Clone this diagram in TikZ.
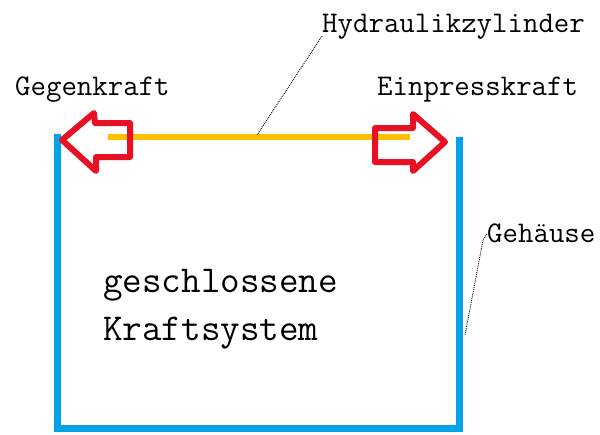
\documentclass[tikz,border=0pt]{standalone}
\usepackage{fontspec}
\definecolor{boxblue}{RGB}{0,162,232}
\definecolor{cylyellow}{RGB}{255,192,0}
\definecolor{arrred}{RGB}{232,17,35}
\tikzset{
  housing/.style={draw=boxblue, line width=7pt, line join=miter},
  cylinder line/.style={draw=cylyellow, line width=6pt},
  forcearrow/.style={draw=arrred, line width=6pt, line join=round},
  lbl/.style={inner sep=0pt, font=\ttfamily\fontsize{30}{30}\selectfont},
  biglbl/.style={inner sep=0pt, font=\ttfamily\fontsize{38}{38}\selectfont},
  leader/.style={draw=black, line width=0.9pt, densely dotted}
}
\begin{document}
\begin{tikzpicture}[x=1pt, y=-1pt]
\useasboundingbox (0,0) rectangle (600,434);
% housing
\draw[housing] (57,134) -- (57,428) -- (459,428) -- (459,137);
% hydraulic cylinder
\draw[cylinder line] (108,137) -- (410,137);
% counter force arrow (left)
\draw[forcearrow] (62,140) -- (94,113) -- (95,123) -- (130,123) -- (130,157) -- (96,157) -- (96,171) -- cycle;
% press-in force arrow (right)
\draw[forcearrow] (445,142) -- (413,114) -- (413,128) -- (375,128) -- (375,162) -- (413,162) -- (413,171) -- cycle;
% labels
\node[lbl, anchor=base west] (hyd) at (322,32) {Hydraulikzylinder};
\node[lbl, anchor=base west] (gegen) at (15,95) {Gegenkraft};
\node[lbl, anchor=base west] (ein) at (377,95) {Einpresskraft};
\node[lbl, anchor=base west] (geh) at (487,242) {Gehäuse};
\node[biglbl, anchor=base west] (gs1) at (103,292) {geschlossene};
\node[biglbl, anchor=base west] (gs2) at (103,340) {Kraftsystem};
% leader lines
\coordinate (cylpt) at (257,135);
\coordinate (houspt) at (465,335);
\draw[leader] ([yshift=-4pt]hyd.base west) -- (cylpt);
\draw[leader] ([yshift=8pt]geh.base west) -- (483,240) -- (houspt);
\end{tikzpicture}
\end{document}
